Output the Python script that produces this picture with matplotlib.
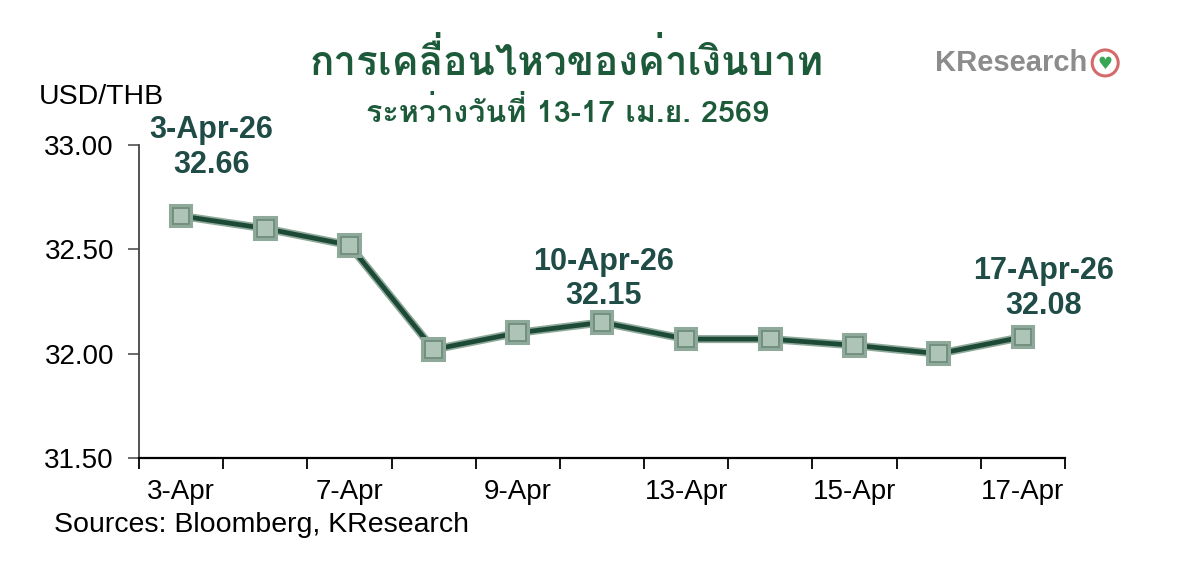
import matplotlib
matplotlib.use("Agg")
import matplotlib.pyplot as plt
import matplotlib.patheffects as pe
from matplotlib.patches import Ellipse
from matplotlib import font_manager as fm
from matplotlib.ft2font import FT2Font

dates = ["3-Apr", "6-Apr", "7-Apr", "8-Apr", "9-Apr", "10-Apr",
         "13-Apr", "14-Apr", "15-Apr", "16-Apr", "17-Apr"]
values = [32.66, 32.60, 32.52, 32.02, 32.10, 32.15, 32.07, 32.07, 32.04, 32.00, 32.08]
shown_labels = ["3-Apr", "7-Apr", "9-Apr", "13-Apr", "15-Apr", "17-Apr"]
yticks = [31.50, 32.00, 32.50, 33.00]
annot_idx = [0, 5, 10]
annot_dates = ["3-Apr-26", "10-Apr-26", "17-Apr-26"]

title = "การเคลื่อนไหวของค่าเงินบาท"
subtitle = "ระหว่างวันที่ 13-17 เม.ย. 2569"

# label offsets in pixels (style)
annot_offsets = [(30, 36), (2, 11), (21, 16)]


def find_thai_family():
    for f in fm.fontManager.ttflist:
        try:
            cm = FT2Font(f.fname).get_charmap()
            if 0x0E01 in cm and 0x0E40 in cm:
                return f.name
        except Exception:
            pass
    return None


thai = find_thai_family()
thai_fams = [thai, "DejaVu Sans"] if thai else ["DejaVu Sans"]

plt.rcParams["font.family"] = ["Liberation Sans", "DejaVu Sans"]

fig = plt.figure(figsize=(12, 5.62), dpi=100)
ax = fig.add_axes([0.1158, 0.185, 0.7717, 0.557])

line_col = "#1c4a36"
x = list(range(len(dates)))
ax.plot(x, values, color=line_col, lw=3.4, zorder=3,
        path_effects=[pe.Stroke(linewidth=5.8, foreground="#8fa99b"), pe.Normal()],
        marker="s", markersize=12, markerfacecolor="#adc4b6",
        markeredgecolor="#6f8d7c", markeredgewidth=1.3)

ax.set_xlim(-0.5, len(dates) - 0.5)
ax.set_ylim(31.5, 33.0)
ax.set_yticks(yticks)
ax.set_yticklabels([f"{v:.2f}" for v in yticks], fontsize=20)
ax.set_xticks([i - 0.5 for i in range(len(dates) + 1)], minor=False)
ax.set_xticklabels([])
ax.set_xticks([dates.index(d) for d in shown_labels], minor=True)
ax.set_xticklabels(shown_labels, minor=True, fontsize=20)
ax.tick_params(axis="x", which="major", length=8, width=1.3, direction="out")
ax.tick_params(axis="x", which="minor", length=0, pad=15)
ax.tick_params(axis="y", length=8, width=1.1, direction="out", pad=10,
               color="#444444")

for s in ["top", "right"]:
    ax.spines[s].set_visible(False)
ax.spines["bottom"].set_linewidth(1.6)
ax.spines["left"].set_color("#444444")
ax.spines["left"].set_linewidth(1.3)

ann_col = "#1f4c46"
for i, d, off in zip(annot_idx, annot_dates, annot_offsets):
    ax.annotate(f"{d}\n{values[i]:.2f}", (x[i], values[i]), xytext=off,
                textcoords="offset pixels", ha="center", va="bottom",
                fontsize=22, fontweight="bold", color=ann_col, linespacing=1.2)

fig.text(0.4725, 0.89, title, ha="center", va="center", fontsize=29,
         fontweight="bold", color="#1d5a3a", family=thai_fams)
fig.text(0.4725, 0.800, subtitle, ha="center", va="center", fontsize=22,
         fontweight="bold", color="#1d5a3a", family=thai_fams)
fig.text(0.032, 0.827, "USD/THB", ha="left", va="center", fontsize=20.5)
fig.text(0.045, 0.066, "Sources: Bloomberg, KResearch", ha="left", va="center",
         fontsize=20.5)

fig.text(0.906, 0.888, "KResearch", ha="right", va="center", fontsize=21,
         fontweight="bold", color="#8c8c8c")
fig.patches.append(Ellipse((0.921, 0.888), 26 / 1200, 26 / 562,
                           transform=fig.transFigure, facecolor="white",
                           edgecolor="#d46a6a", lw=2.2))
fig.text(0.921, 0.886, "♥", ha="center", va="center", fontsize=12,
         color="#3aa655", family="DejaVu Sans")

fig.savefig("out.png", dpi=100, facecolor="white")
